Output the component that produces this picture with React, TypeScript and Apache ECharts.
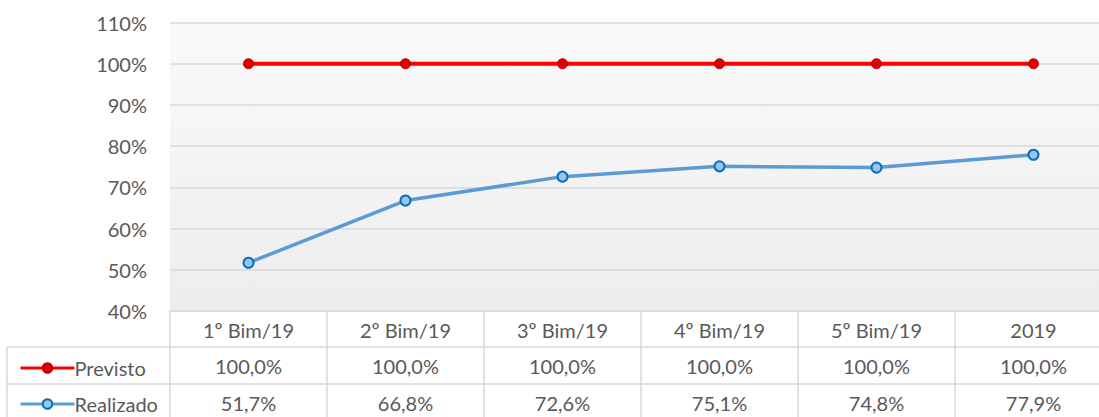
import React, { useEffect, useRef } from "react";
import * as echarts from "echarts";

const categories = ["1º Bim/19", "2º Bim/19", "3º Bim/19", "4º Bim/19", "5º Bim/19", "2019"];
const previsto = [100.0, 100.0, 100.0, 100.0, 100.0, 100.0];
const realizado = [51.7, 66.8, 72.6, 75.1, 74.8, 77.9];
const yTicks = { min: 40, max: 110, interval: 10 };

const FONT = "Lato";
const TXT = "#595959";
const BORDER = "#d9d9d9";

const fmt = (v: number) => v.toFixed(1).replace(".", ",") + "%";

export default function App() {
  const ref = useRef<HTMLDivElement>(null);
  useEffect(() => {
    if (!ref.current) return;
    const chart = echarts.init(ref.current, undefined, { renderer: "svg" });
    const labelBase = { fontSize: 20, color: TXT, fontFamily: FONT };
    const legendBase = {
      orient: "horizontal",
      left: 14,
      itemWidth: 54,
      itemHeight: 12,
      itemGap: 0,
      lineStyle: { width: 3 },
      textStyle: { ...labelBase, padding: [0, 0, 0, -5] },
    };
    chart.setOption({
      animation: false,
      backgroundColor: "#ffffff",
      grid: {
        left: 170,
        top: 22.5,
        width: 942,
        bottom: 106,
        outerBoundsMode: "none",
        containLabel: false,
        show: true,
        borderWidth: 0,
        backgroundColor: new echarts.graphic.LinearGradient(0, 0, 0, 1, [
          { offset: 0, color: "#fafafa" },
          { offset: 1, color: "#ededed" },
        ]),
      },
      legend: [
        { ...legendBase, top: 353, data: ["Previsto"] },
        { ...legendBase, top: 389, data: ["Realizado"] },
      ],
      xAxis: [
        {
          type: "category",
          data: categories,
          position: "bottom",
          boundaryGap: true,
          axisLine: { show: true, lineStyle: { color: BORDER, width: 1.5 } },
          axisTick: { show: true, length: 106, lineStyle: { color: BORDER, width: 1.5 } },
          axisLabel: { ...labelBase, margin: 9 },
          splitLine: { show: false },
        },
        {
          type: "category",
          data: categories,
          position: "bottom",
          offset: 36,
          axisLine: { show: false },
          axisTick: { show: false },
          axisLabel: { ...labelBase, margin: 9, formatter: (_v: string, i: number) => fmt(previsto[i]) },
        },
        {
          type: "category",
          data: categories,
          position: "bottom",
          offset: 73,
          axisLine: { show: false },
          axisTick: { show: false },
          axisLabel: { ...labelBase, margin: 9, formatter: (_v: string, i: number) => fmt(realizado[i]) },
        },
      ],
      yAxis: {
        type: "value",
        min: yTicks.min,
        max: yTicks.max,
        interval: yTicks.interval,
        axisLine: { show: false },
        axisTick: { show: false },
        axisLabel: { ...labelBase, margin: 23, formatter: (v: number) => `${v}%` },
        splitLine: { show: true, lineStyle: { color: BORDER, width: 1.5 } },
      },
      graphic: [
        { type: "line", shape: { x1: 7, y1: 347, x2: 1099, y2: 347 }, style: { stroke: BORDER, lineWidth: 1.5 } },
        { type: "line", shape: { x1: 7, y1: 384, x2: 1099, y2: 384 }, style: { stroke: BORDER, lineWidth: 1.5 } },
        { type: "line", shape: { x1: 7, y1: 347, x2: 7, y2: 417 }, style: { stroke: BORDER, lineWidth: 1.5 } },
      ],
      series: [
        {
          name: "Previsto",
          type: "line",
          data: previsto,
          xAxisIndex: 0,
          symbol: "circle",
          symbolSize: 10,
          lineStyle: { color: "#ff0000", width: 4 },
          itemStyle: { color: "#e00000", borderColor: "#c00000", borderWidth: 1 },
        },
        {
          name: "Realizado",
          type: "line",
          data: realizado,
          xAxisIndex: 0,
          symbol: "circle",
          symbolSize: 10,
          lineStyle: { color: "#5b9bd5", width: 3.5 },
          itemStyle: { color: "#9dc3e6", borderColor: "#0070c0", borderWidth: 2 },
        },
      ],
    });
    return () => chart.dispose();
  }, []);
  return (
    <div
      ref={ref}
      style={{ position: "fixed", left: 0, top: 0, width: 1099, height: 417 }}
    />
  );
}
